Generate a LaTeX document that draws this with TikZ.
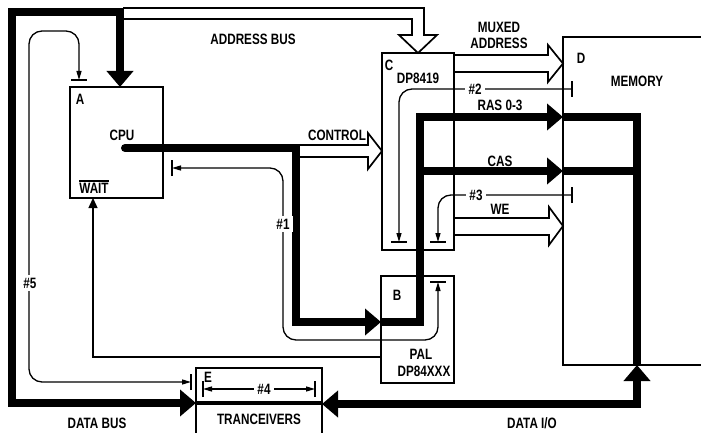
\documentclass[tikz,border=0pt]{standalone}
\usepackage{fontspec}
\setmainfont{Liberation Sans}[FakeStretch=0.78]
\usepackage{tikz}
\usetikzlibrary{arrows.meta,calc}
\newcommand{\lblfont}{\fontsize{15}{16}\selectfont\bfseries}
\newcommand{\bartext}[1]{\leavevmode\vbox{\hrule height 1.3pt\kern1.5pt\hbox{#1}}}
\newcommand{\htick}[1]{\draw[line width=1.3pt] ([xshift=-8pt]#1) -- ([xshift=8pt]#1);}
\newcommand{\vtick}[1]{\draw[line width=1.3pt] ([yshift=-8pt]#1) -- ([yshift=8pt]#1);}

\begin{document}
\begin{tikzpicture}[x=1pt,y=-1pt,
  box/.style={draw, line width=2.6pt, inner sep=0pt, outer sep=0pt, anchor=north west},
  lbl/.style={font=\lblfont, inner sep=1pt},
  cut/.style={font=\lblfont, fill=white, inner sep=3pt},
  bus/.style={line width=8pt, line join=miter},
  hollow/.style={line width=1.7pt, line join=miter},
  sig/.style={line width=1.3pt, rounded corners=13pt},
  bustip/.tip={Triangle[length=16pt,width=26pt]},
  sigtip/.tip={Triangle[length=9pt,width=5pt]},
  waittip/.tip={Triangle[length=10pt,width=9pt]}]
\useasboundingbox (0,0) rectangle (701,433);
\clip (0,0) rectangle (701,433);

% Blocks
\node[box, minimum width=93pt, minimum height=111pt] (cpu) at (70,87) {};
\node[box, minimum width=72pt, minimum height=197pt] (dp) at (382,53) {};
\node[box, minimum width=160pt, minimum height=328pt] (mem) at (563,37) {};
\node[box, minimum width=73pt, minimum height=107pt] (pal) at (381,276) {};
\node[box, minimum width=126pt, minimum height=90pt] (xcvr) at (196,368) {};

% Block texts
\node[lbl] (cpuA) at (80,99) {A};
\node[lbl] (cpuname) at (122,135) {CPU};
\node[lbl] (cpuwait) at (94,187) {\bartext{WAIT}};
\node[lbl] (dpC) at (389,65) {C};
\node[lbl] (dpname) at (418,78) {DP8419};
\node[lbl] (memD) at (581,58) {D};
\node[lbl] (memname) at (637,81) {MEMORY};
\node[lbl] (palB) at (397,295) {B};
\node[lbl] (palname) at (421,354) {PAL};
\node[lbl] (palpart) at (424,371) {DP84XXX};
\node[lbl] (xcvrE) at (208,377) {E};
\node[lbl] (xcvrname) at (259,419) {TRANCEIVERS};

% Hollow (multi line) arrows
\draw[hollow] (123,8) -- (424,8) -- (424,35) -- (437,35) -- (dp.north)
  -- (399,35) -- (412,35) -- (412,19) -- (123,19);
\draw[hollow] (dp.east |- 0,55) -- (548,55) -- (548,45) -- (mem.west |- 0,63.5)
  -- (548,82) -- (548,72) -- (dp.east |- 0,72);
\draw[hollow] (300,145) -- (368,145) -- (368,133) -- (dp.west |- 0,151)
  -- (368,169) -- (368,157) -- (300,157);
\draw[hollow] (dp.east |- 0,218) -- (549,218) -- (549,207) -- (mem.west |- 0,226)
  -- (549,245) -- (549,235) -- (dp.east |- 0,235);

% Buses
\draw[bus, bustip-bustip] (cpu.north -| 120,0) -- (120,12) -- (12,12) -- (12,403)
  -- (xcvr.west |- 0,403);
\draw[bus, line cap=round, -bustip] (125,148) -- (296,148) -- (296,322)
  -- (pal.west |- 0,322);
\draw[bus, -bustip] (pal.west |- 0,322) -- (420,322) -- (420,117)
  -- (mem.west |- 0,117);
\draw[bus, -bustip] (420,171) -- (mem.west |- 0,171);
\draw[bus] (mem.west |- 0,117) -- (637,117) -- (mem.south -| 637,0);
\draw[bus] (mem.west |- 0,171) -- (637,171);
\draw[bus, bustip-bustip] (mem.south -| 637,0) -- (637,404) -- (xcvr.east |- 0,404);
\draw[line width=4pt] (xcvr.west |- 0,403) -- (xcvr.east |- 0,403);

% Timing paths
\coordinate (t1a) at (172,168);
\coordinate (t1b) at (438,282);
\coordinate (t2a) at (572,89);
\coordinate (t2b) at (399,242);
\coordinate (t3a) at (572,195);
\coordinate (t3b) at (438,242);
\coordinate (t4a) at (203,389);
\coordinate (t4b) at (315,389);
\coordinate (t5a) at (79,80);
\coordinate (t5b) at (191,382);

\draw[sig, sigtip-sigtip] (t1a) -- (283,168) -- (283,340) -- (438,340) -- (t1b);
\draw[sig, -sigtip] (t2a) -- (399,89) -- (t2b);
\draw[sig, -sigtip] (t3a) -- (438,195) -- (t3b);
\draw[sig, sigtip-sigtip] (t4a) -- (t4b);
\draw[sig, sigtip-sigtip] (t5a) -- (79,31) -- (29,31) -- (29,382) -- (t5b);
\draw[line width=1.3pt, -waittip] (pal.west |- 0,357) -- (93,357) -- (cpu.south -| 93,0);

\vtick{t1a} \htick{t1b}
\vtick{t2a} \htick{t2b}
\vtick{t3a} \htick{t3b}
\vtick{t4a} \vtick{t4b}
\htick{t5a} \vtick{t5b}

\node[cut] (n1) at (283,224) {\#1};
\node[cut] (n2) at (475,89) {\#2};
\node[cut] (n3) at (476,195) {\#3};
\node[cut] (n4) at (264,389) {\#4};
\node[cut] (n5) at (30,283) {\#5};

% Bus names
\node[lbl] (addrbus) at (253,39) {ADDRESS BUS};
\node[lbl, align=center] (muxaddr) at (499,35) {MUXED\\ADDRESS};
\node[lbl] (ctrl) at (337,135) {CONTROL};
\node[lbl] (ras) at (500,105) {RAS 0-3};
\node[lbl] (cas) at (500,161) {CAS};
\node[lbl] (we) at (500,209) {WE};
\node[lbl] (databus) at (97,423) {DATA BUS};
\node[lbl] (dataio) at (532,423) {DATA I/O};
\end{tikzpicture}
\end{document}
